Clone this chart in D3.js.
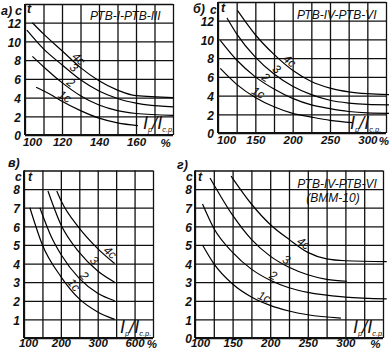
<!DOCTYPE html>
<html>
<head>
<meta charset="utf-8">
<script src="https://cdn.jsdelivr.net/npm/d3@7"></script>
<style>
  body { margin: 0; background: #fff; }
  svg { display: block; font-family: "Liberation Sans", Arial, sans-serif; font-style: italic; }
</style>
</head>
<body>
<svg id="chart" width="389" height="351"></svg>
<script>
// curve names, same order in every panel
const curveLabels = ["1с", "2", "3", "4с"];

// ---- а) РТВ-I-РТВ-III ----
const aXTicks = [100, 120, 140, 160];
const aYTicks = [0, 2, 4, 6, 8, 10, 12];
const aCurves = [
  [[106, 5.1], [115, 4.2], [120, 3.6], [130, 2.6], [140, 1.8], [150, 1.3], [161, 1.0]],
  [[104, 8.4], [110, 7.3], [120, 5.6], [130, 4.2], [140, 3.2], [150, 2.6], [160, 2.3], [180, 2.1]],
  [[101, 11.2], [110, 9.2], [120, 7.5], [130, 5.9], [140, 4.7], [150, 3.9], [160, 3.4], [180, 3.0]],
  [[104, 12], [110, 10.8], [120, 9.0], [130, 7.2], [140, 5.8], [150, 4.8], [160, 4.2], [180, 4.0]]
];
const aLabelAt = [120, 123, 124.5, 127];

// ---- б) РТВ-IV-РТВ-VI ----
const bXTicks = [100, 150, 200, 250, 300];
const bYTicks = [0, 2, 4, 6, 8, 10, 12];
const bCurves = [
  [[103, 6.9], [125, 5.2], [150, 3.8], [175, 2.8], [200, 2.1], [225, 1.7], [250, 1.35], [280, 1.1]],
  [[103, 9.9], [125, 7.8], [150, 6.0], [175, 4.7], [200, 3.7], [225, 3.0], [250, 2.6], [275, 2.3], [300, 2.15], [330, 2.1]],
  [[112, 12.3], [125, 10.6], [150, 8.1], [175, 6.3], [200, 5.0], [225, 4.1], [250, 3.5], [275, 3.2], [300, 3.05], [330, 3.0]],
  [[126, 13.1], [150, 10.5], [175, 8.4], [200, 6.7], [225, 5.5], [250, 4.8], [275, 4.4], [300, 4.2], [330, 4.1]]
];
const bLabelAt = [150, 160, 174, 191];

// ---- в) ----
const cXTicks = [100, 200, 300, 400];
const cXTickLabels = ["100", "200", "300", "600"];
const cYTicks = [1, 2, 3, 4, 5, 6, 7, 8];
const cCurves = [
  [[116, 7.0], [150, 5.0], [200, 3.3], [250, 2.1], [300, 1.4], [346, 1.0]],
  [[143, 7.0], [175, 5.4], [200, 4.5], [250, 3.2], [300, 2.4], [346, 2.0]],
  [[165, 7.9], [200, 6.1], [250, 4.6], [300, 3.6], [346, 3.0]],
  [[189, 7.9], [200, 7.4], [250, 5.9], [300, 4.8], [346, 4.0]]
];
const cLabelAt = [224, 253, 280, 324];

// ---- г) РТВ-IV-РТВ-VI (ВММ-10) ----
const dXTicks = [100, 150, 200, 250, 300];
const dYTicks = [0, 1, 2, 3, 4, 5, 6, 7, 8];
const dCurves = [
  [[110, 5.0], [125, 4.0], [150, 2.9], [175, 2.2], [200, 1.75], [225, 1.45], [250, 1.25], [294, 1.07]],
  [[110, 7.2], [125, 5.9], [150, 4.6], [175, 3.7], [200, 3.1], [225, 2.7], [250, 2.45], [300, 2.2], [355, 2.1]],
  [[120, 8.6], [150, 6.6], [175, 5.3], [200, 4.4], [225, 3.8], [250, 3.4], [275, 3.15], [302, 3.05]],
  [[148, 8.7], [175, 7.2], [200, 6.1], [225, 5.3], [250, 4.6], [275, 4.25], [300, 4.15], [355, 4.1]]
];
const dLabelAt = [189, 201, 218, 240];

const svg = d3.select("#chart");
const ink = "#111";

function drawPanel(p) {
  const x = d3.scaleLinear().domain(p.xDomain).range([p.left, p.right]);
  const y = d3.scaleLinear().domain(p.yDomain).range([p.bottom, p.top]);
  const g = svg.append("g");
  const w = p.right - p.left, h = p.bottom - p.top;

  // grid
  g.append("g")
    .attr("transform", `translate(0,${p.bottom})`)
    .call(d3.axisBottom(x).tickValues(d3.range(p.xDomain[0], p.xDomain[1] + 0.01, p.xStep)).tickSize(-h).tickFormat(""))
    .call(a => a.select(".domain").remove())
    .call(a => a.selectAll("line").attr("stroke", ink).attr("stroke-width", 1.3));
  g.append("g")
    .attr("transform", `translate(${p.left},0)`)
    .call(d3.axisLeft(y).tickValues(d3.range(p.yDomain[0], p.yDomain[1] + 0.01, p.yStep)).tickSize(-w).tickFormat(""))
    .call(a => a.select(".domain").remove())
    .call(a => a.selectAll("line").attr("stroke", ink).attr("stroke-width", 1.3));

  // main axes
  g.append("line").attr("x1", p.left).attr("x2", p.left).attr("y1", p.top).attr("y2", p.bottom)
    .attr("stroke", ink).attr("stroke-width", 2);
  g.append("line").attr("x1", p.left).attr("x2", p.right).attr("y1", p.bottom).attr("y2", p.bottom)
    .attr("stroke", ink).attr("stroke-width", 2);

  // tick labels
  g.append("g")
    .attr("transform", `translate(${p.left},0)`)
    .call(d3.axisLeft(y).tickValues(p.yTicks).tickSize(0).tickPadding(p.yPad))
    .call(a => a.select(".domain").remove())
    .call(a => a.selectAll("text").attr("font-size", 12).attr("font-weight", "bold")
      .attr("font-family", null).attr("fill", ink).attr("dy", "0.4em"));
  g.append("g")
    .attr("transform", `translate(0,${p.bottom})`)
    .call(d3.axisBottom(x).tickValues(p.xTicks).tickSize(0).tickPadding(p.xPad)
      .tickFormat((d, i) => p.xTickLabels ? p.xTickLabels[i] : d))
    .call(a => a.select(".domain").remove())
    .call(a => a.selectAll("text").attr("font-size", 11.5).attr("font-weight", "bold")
      .attr("font-family", null).attr("fill", ink)
      .attr("dx", (d, i) => i === 0 ? p.firstDx : 0));
  g.append("text").attr("x", x(p.pctAt)).attr("y", p.bottom + p.xPad + 9)
    .attr("font-size", 11.5).attr("font-weight", "bold").attr("fill", ink)
    .attr("text-anchor", "middle").text("%");

  // curves
  const line = d3.line().x(d => x(d[0])).y(d => y(d[1])).curve(d3.curveMonotoneX);
  p.curves.forEach((c, i) => {
    const path = g.append("path").datum(c).attr("d", line)
      .attr("fill", "none").attr("stroke", "#000").attr("stroke-width", 1.2);
    // label sitting on the curve, rotated along it
    const node = path.node(), len = node.getTotalLength();
    const tx = x(p.labelAt[i]);
    let lo = 0, hi = len;
    for (let k = 0; k < 30; k++) {
      const mid = (lo + hi) / 2;
      if (node.getPointAtLength(mid).x < tx) lo = mid; else hi = mid;
    }
    const pt = node.getPointAtLength(lo);
    const a = node.getPointAtLength(Math.max(0, lo - 4)), b = node.getPointAtLength(Math.min(len, lo + 4));
    const ang = Math.atan2(b.y - a.y, b.x - a.x) * 180 / Math.PI;
    g.append("text")
      .attr("transform", `translate(${pt.x},${pt.y}) rotate(${ang})`)
      .attr("dy", -1.5).attr("text-anchor", "middle")
      .attr("font-size", 12).attr("fill", ink).text(curveLabels[i]);
  });

  // x quantity label
  const q = g.append("text").attr("x", p.qx).attr("y", p.qy).attr("font-size", 18).attr("fill", ink);
  q.append("tspan").text("I");
  q.append("tspan").attr("font-size", 7.5).attr("dy", 3).text("р");
  q.append("tspan").attr("dy", -3).text("/");
  q.append("tspan").text("I");
  q.append("tspan").attr("font-size", 7.5).attr("dy", 3).text("с.р.");

  // titles and letters
  p.texts.forEach(t => {
    g.append("text").attr("x", t[0]).attr("y", t[1]).attr("font-size", t[3])
      .attr("font-weight", t[5] || "normal")
      .attr("text-anchor", t[4] || "start").attr("fill", ink).text(t[2]);
  });
}

drawPanel({
  left: 25, right: 173, top: 4, bottom: 135,
  xDomain: [100, 180], yDomain: [0, 14], xStep: 10, yStep: 2,
  xTicks: aXTicks, yTicks: aYTicks, yPad: 4, xPad: 3, firstDx: 7, pctAt: 176,
  curves: aCurves, labelAt: aLabelAt, qx: 143, qy: 129,
  texts: [[1, 15, "а)", 12.5, "start", "bold"], [15, 15, "с", 12.5, "start", "bold"], [27, 13, "t", 12.5, "start", "bold"],
          [90, 20, "РТВ-I-РТВ-III", 12]]
});

drawPanel({
  left: 218, right: 386, top: 2, bottom: 133,
  xDomain: [100, 325], yDomain: [0, 14], xStep: 25, yStep: 2,
  xTicks: bXTicks, yTicks: bYTicks, yPad: 4, xPad: 3, firstDx: 8, pctAt: 322,
  curves: bCurves, labelAt: bLabelAt, qx: 350, qy: 129,
  texts: [[193, 13, "б)", 12.5, "start", "bold"], [210, 14, "с", 12, "start", "bold"], [221, 12, "t", 12.5, "start", "bold"],
          [297, 19, "РТВ-IV-РТВ-VI", 12]]
});

drawPanel({
  left: 24, right: 153, top: 170.5, bottom: 338,
  xDomain: [100, 450], yDomain: [0, 9], xStep: 50, yStep: 1,
  xTicks: cXTicks, xTickLabels: cXTickLabels, yTicks: cYTicks, yPad: 4, xPad: 1, firstDx: 4, pctAt: 447,
  curves: cCurves, labelAt: cLabelAt, qx: 120, qy: 333,
  texts: [[8, 167, "в)", 12.5, "start", "bold"], [15, 181, "с", 12, "start", "bold"], [28, 181, "t", 12.5, "start", "bold"]]
});

drawPanel({
  left: 195, right: 383, top: 170.5, bottom: 338,
  xDomain: [100, 350], yDomain: [0, 9], xStep: 25, yStep: 1,
  xTicks: dXTicks, yTicks: dYTicks, yPad: 3, xPad: 1, firstDx: 5, pctAt: 340,
  curves: dCurves, labelAt: dLabelAt, qx: 353, qy: 333,
  texts: [[177, 169, "г)", 12.5, "start", "bold"], [186, 181, "с", 12, "start", "bold"], [198, 181, "t", 12.5, "start", "bold"],
          [337, 188, "РТВ-IV-РТВ-VI", 12, "middle"], [333, 202, "(ВММ-10)", 12, "middle"]]
});
</script>
</body>
</html>
